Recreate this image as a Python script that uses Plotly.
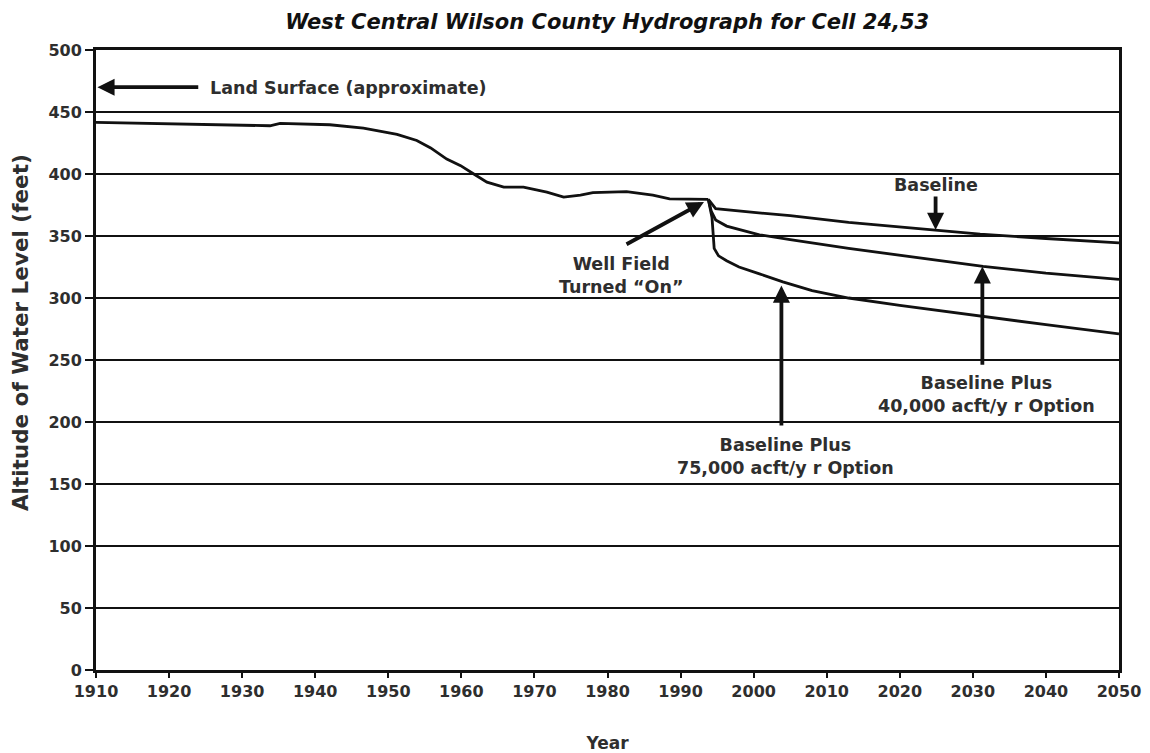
import plotly.graph_objects as go

# Historic simulated water level (feet above sea level)
hist_years = [1910, 1917, 1927, 1933.8, 1935.2, 1942, 1946.6, 1951.2, 1953.9, 1955.8,
              1958, 1959.9, 1961.7, 1963.5, 1965.8, 1968.5, 1971.7, 1974, 1976.3,
              1978, 1982.6, 1986.2, 1988.5, 1991.7, 1993.8]
hist_level = [441.6, 440.8, 439.7, 438.9, 440.8, 439.7, 437, 432, 427, 421,
              412, 406.7, 400, 393.4, 389.4, 389.4, 385.4, 381.4, 383,
              385, 385.8, 383, 380, 380, 379.5]

# Projections after the well field is turned on
base_years = [1993.8, 1994.8, 2000, 2005, 2013, 2025, 2031, 2040, 2050]
base_level = [379.5, 372, 369, 366.5, 361, 354.5, 351.5, 348, 344.5]

opt40_years = [1993.8, 1994.2, 1994.8, 1996.3, 2000.8, 2005, 2013, 2020, 2031.4, 2040, 2050]
opt40_level = [379.5, 370, 363, 358, 351, 347, 340, 334.5, 325.5, 320, 315]

opt75_years = [1993.8, 1994.3, 1994.6, 1995.2, 1996.3, 1998, 2000.8, 2004, 2008, 2013,
               2020, 2030, 2040, 2050]
opt75_level = [379.5, 365, 340, 334, 330, 325, 319.5, 313, 306, 300,
               294, 286, 278.5, 271]

x_ticks = list(range(1910, 2051, 10))
y_ticks = list(range(0, 501, 50))

FONT = "DejaVu Sans, Verdana, sans-serif"
TXT = "#2e2e2e"
line_style = dict(color="#111111", width=2.8)

fig = go.Figure()
for xs, ys in [(hist_years, hist_level), (base_years, base_level),
               (opt40_years, opt40_level), (opt75_years, opt75_level)]:
    fig.add_trace(go.Scatter(x=xs, y=ys, mode="lines", line=line_style,
                             showlegend=False, hoverinfo="skip"))

# 450-ft gridline is drawn lighter
fig.add_shape(type="line", xref="paper", x0=0, x1=1, yref="y", y0=450, y1=450,
              line=dict(color="#9a9a9a", width=2), layer="below")

ann_font = dict(family=FONT, size=17.5, color=TXT)
arrow = dict(showarrow=True, arrowhead=2, arrowsize=0.9, arrowwidth=3.8,
             arrowcolor="#111111", axref="x", ayref="y", text="")

fig.add_annotation(x=1910.2, y=470, ax=1924.2, ay=470, **arrow)
fig.add_annotation(x=1925.3, y=469, text="<b>Land Surface (approximate)</b>",
                   showarrow=False, xanchor="left", yanchor="middle", font=ann_font)

fig.add_annotation(x=1993.2, y=377.5, ax=1982.4, ay=342.7, **arrow)
fig.add_annotation(x=1981.8, y=318.5, text="<b>Well Field<br>Turned \u201cOn\u201d</b>",
                   showarrow=False, font=ann_font)

fig.add_annotation(x=2024.9, y=355, ax=2024.9, ay=383, **arrow)
fig.add_annotation(x=2025, y=391, text="<b>Baseline</b>", showarrow=False, font=ann_font)

fig.add_annotation(x=2031.3, y=325.5, ax=2031.3, ay=245, **arrow)
fig.add_annotation(x=2031.9, y=222, text="<b>Baseline Plus<br>40,000 acft/y r Option</b>",
                   showarrow=False, font=ann_font)

fig.add_annotation(x=2003.8, y=310, ax=2003.8, ay=196, **arrow)
fig.add_annotation(x=2004.4, y=172, text="<b>Baseline Plus<br>75,000 acft/y r Option</b>",
                   showarrow=False, font=ann_font)

# Vertical axis title
fig.add_annotation(xref="paper", yref="paper", x=-0.0743, y=0.545,
                   text="<b>Altitude of Water Level (feet)</b>", textangle=-90,
                   showarrow=False, xanchor="center", yanchor="middle",
                   font=dict(family=FONT, size=21.5, color=TXT))

fig.update_layout(
    width=1150, height=753,
    margin=dict(l=96, r=31, t=50, b=83),
    paper_bgcolor="white", plot_bgcolor="white",
    title=dict(text="<b><i>West Central Wilson County Hydrograph for Cell 24,53</i></b>",
               x=0.528, xanchor="center", y=0.971, yanchor="middle",
               font=dict(family=FONT, size=21, color="#111111")),
    font=dict(family=FONT, color=TXT),
)
fig.update_xaxes(range=[1910, 2050], tickvals=x_ticks, showgrid=False, automargin=False,
                 showline=True, linecolor="#111111", linewidth=3, mirror=True,
                 ticks="outside", ticklen=5, tickwidth=2, tickcolor="#111111",
                 tickfont=dict(family=FONT, size=16, color=TXT, weight="bold"),
                 title=dict(text="<b>Year</b>", font=dict(family=FONT, size=17, color=TXT),
                            standoff=38),
                 zeroline=False)
fig.update_yaxes(range=[0, 500], tickvals=y_ticks, showgrid=True, gridcolor="#111111",
                 automargin=False,
                 gridwidth=2, showline=True, linecolor="#111111", linewidth=3, mirror=True,
                 ticks="outside", ticklen=8, tickwidth=2, tickcolor="#111111",
                 ticksuffix=" ",
                 tickfont=dict(family=FONT, size=16, color=TXT, weight="bold"),
                 zeroline=False)

fig.write_html("out.html")
